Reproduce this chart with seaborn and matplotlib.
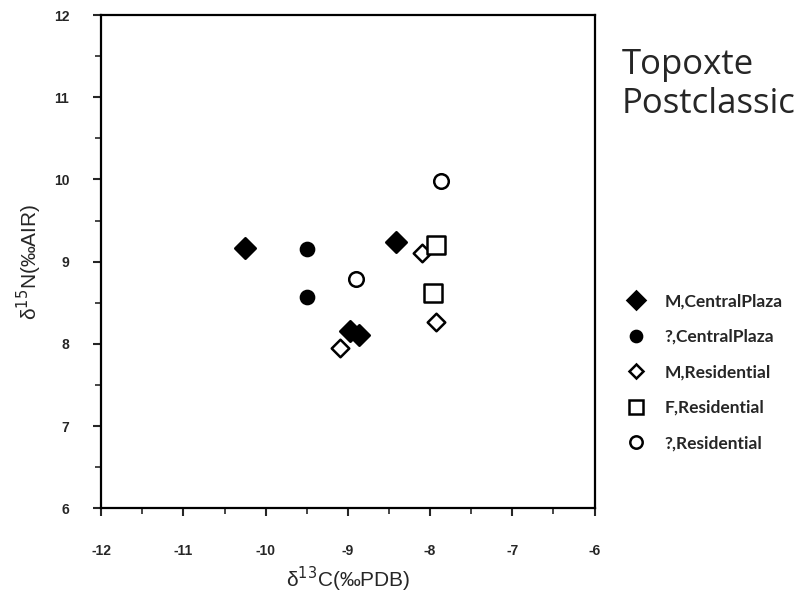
import numpy as np
import pandas as pd
import matplotlib
matplotlib.use("Agg")
import matplotlib.pyplot as plt
from matplotlib.lines import Line2D
from matplotlib.ticker import MultipleLocator
import seaborn as sns

# values
groups = ["M,CentralPlaza", "?,CentralPlaza", "M,Residential", "F,Residential", "?,Residential"]
carbon = {
    "M,CentralPlaza": [-10.25, -8.42, -8.98, -8.86],
    "?,CentralPlaza": [-9.50, -9.50],
    "M,Residential": [-8.10, -9.09, -7.93],
    "F,Residential": [-7.93, -7.96],
    "?,Residential": [-8.90, -7.87],
}
nitrogen = {
    "M,CentralPlaza": [9.16, 9.24, 8.15, 8.11],
    "?,CentralPlaza": [9.15, 8.57],
    "M,Residential": [9.11, 7.95, 8.26],
    "F,Residential": [9.20, 8.62],
    "?,Residential": [8.79, 9.98],
}

rows = []
for g in groups:
    for c, n in zip(carbon[g], nitrogen[g]):
        rows.append({"group": g, "d13C": c, "d15N": n})
df = pd.DataFrame(rows)

# marker style per group: (marker, facecolor, size)
styles = {
    "M,CentralPlaza": ("D", "black", 110),
    "?,CentralPlaza": ("o", "black", 90),
    "M,Residential": ("D", "white", 80),
    "F,Residential": ("s", "white", 150),
    "?,Residential": ("o", "white", 110),
}

sns.set_style("ticks")
plt.rcParams['font.family'] = ['Liberation Sans', 'DejaVu Sans']
plt.rcParams['axes.unicode_minus'] = False  # plain hyphen like the original

fig = plt.figure(figsize=(8.1, 6), dpi=100)
ax = fig.add_axes([0.125, 0.153, 0.609, 0.822])

for g in groups:
    m, fc, s = styles[g]
    sub = df[df["group"] == g]
    sns.scatterplot(data=sub, x="d13C", y="d15N", marker=m, s=s,
                    color=fc, edgecolor="black", linewidth=1.8, ax=ax, zorder=3)

ax.set_xlim(-12, -6)
ax.set_ylim(6, 12)
ax.xaxis.set_major_locator(MultipleLocator(1))
ax.xaxis.set_minor_locator(MultipleLocator(0.5))
ax.yaxis.set_major_locator(MultipleLocator(1))
ax.yaxis.set_minor_locator(MultipleLocator(0.5))
ax.tick_params(which="major", direction="out", length=6, width=1.5, labelsize=10)
ax.tick_params(axis="x", which="major", pad=20)
ax.tick_params(axis="y", which="major", pad=17)
ax.tick_params(which="minor", direction="out", length=4, width=1.2)
for lab in ax.get_xticklabels() + ax.get_yticklabels():
    lab.set_fontweight("bold")
for sp in ax.spines.values():
    sp.set_visible(True)
    sp.set_linewidth(1.6)
    sp.set_color("black")

ax.set_xlabel("δ$^{13}$C(‰PDB)", fontsize=15, labelpad=5)
ax.set_ylabel("δ$^{15}$N(‰AIR)", fontsize=15, labelpad=7)

fig.text(0.768, 0.92, "Topoxte\nPostclassic", fontsize=25, va="top", ha="left",
         family=["Open Sans", "DejaVu Sans"], linespacing=1.2)

handles = []
for g in groups:
    m, fc, s = styles[g]
    handles.append(Line2D([], [], linestyle="none", marker=m, markersize=np.sqrt(s) * 0.85,
                          markerfacecolor=fc, markeredgecolor="black", markeredgewidth=1.8))
leg = fig.legend(handles, groups, loc="upper left", bbox_to_anchor=(0.745, 0.537),
                 frameon=False, handletextpad=0.6, labelspacing=1.12,
                 prop={"family": ["Lato", "DejaVu Sans"], "weight": "bold", "size": 12.5})

fig.savefig("out.png", dpi=100)
